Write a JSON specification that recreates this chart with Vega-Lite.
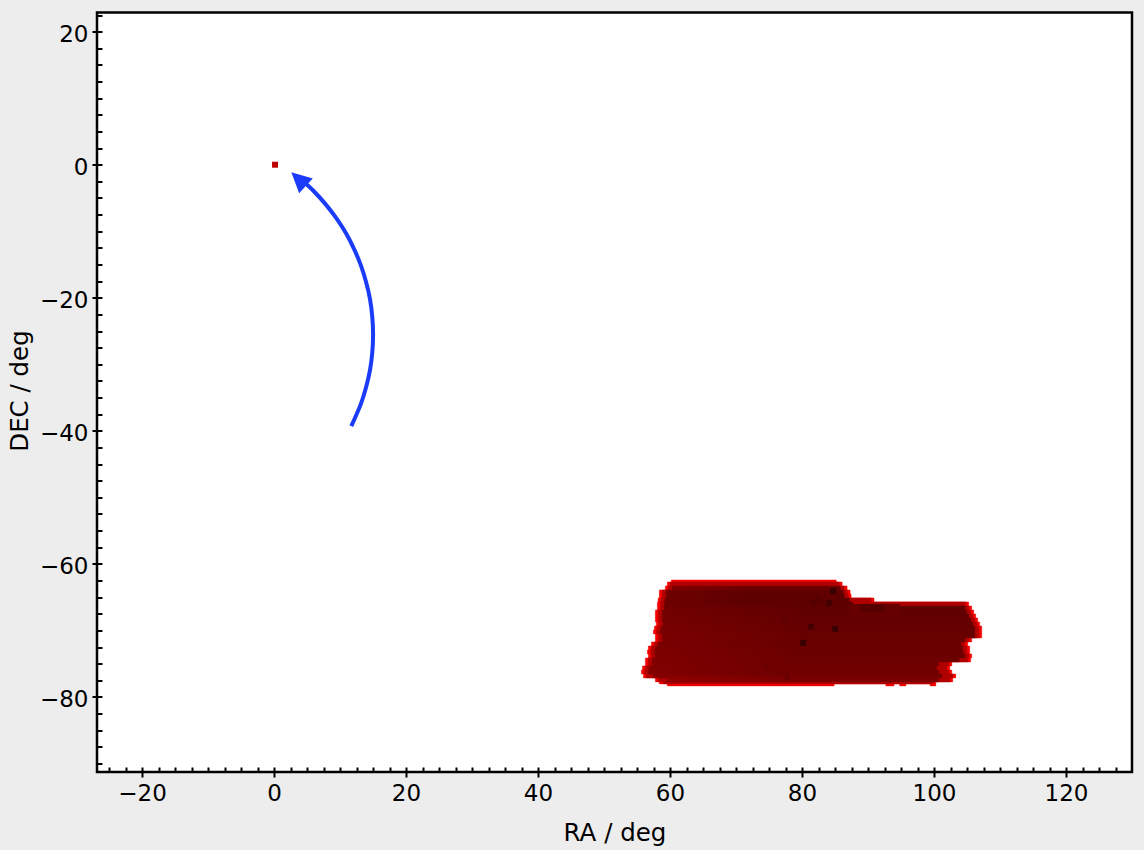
{
"$schema":"https://vega.github.io/schema/vega-lite/v6.json",
"width":1035,"height":759.5,"autosize":"none",
"padding":{"left":97,"top":12.5,"right":12,"bottom":78},
"background":"#ededed",
"config":{"view":{"fill":"#ffffff","stroke":"#000000","strokeWidth":2.5},
"axis":{"grid":false,"domain":false,"tickColor":"#000000","tickWidth":2,"labelColor":"#000000","titleColor":"#000000","labelFont":"DejaVu Sans","titleFont":"DejaVu Sans","labelFontSize":23,"titleFontSize":24.5,"titleFontWeight":"normal","labelFlush":false,"labelOverlap":false}},
"datasets":{
"bands":[
{"t":-62.41,"b":-62.71,"L":60.2,"R":85.18},
{"t":-62.71,"b":-63.31,"L":59.59,"R":86.08,"l1":60.04,"r1":85.63},
{"t":-63.31,"b":-63.91,"L":59.29,"R":86.84,"l1":59.74,"r1":86.39,"l2":60.34,"r2":85.79,"v":0.5},
{"t":-63.91,"b":-64.51,"L":58.38,"R":87.29,"l1":58.83,"r1":86.84,"l2":59.43,"r2":86.24,"v":0.56},
{"t":-64.51,"b":-65.11,"L":58.38,"R":87.44,"l1":58.83,"r1":86.99,"l2":59.43,"r2":86.39,"v":0.57},
{"t":-65.11,"b":-65.71,"L":58.2,"R":90.91,"l1":58.65,"r1":90.46,"l2":59.25,"r2":87.2,"v":0.57},
{"t":-65.71,"b":-66.32,"L":58.08,"R":105.26,"l1":58.53,"r1":104.8,"l2":59.13,"r2":87.7,"v":0.57},
{"t":-66.32,"b":-66.92,"L":58.08,"R":105.71,"l1":58.53,"r1":105.26,"l2":59.13,"r2":104.66,"v":0.56},
{"t":-66.92,"b":-67.52,"L":57.78,"R":106.02,"l1":58.23,"r1":105.57,"l2":58.83,"r2":104.97,"v":0.55},
{"t":-67.52,"b":-68.12,"L":57.78,"R":106.32,"l1":58.23,"r1":105.87,"l2":58.83,"r2":105.27,"v":0.55},
{"t":-68.12,"b":-68.72,"L":57.78,"R":106.62,"l1":58.23,"r1":106.17,"l2":58.83,"r2":105.57,"v":0.54},
{"t":-68.72,"b":-69.32,"L":57.93,"R":106.92,"l1":58.38,"r1":106.47,"l2":58.98,"r2":105.87,"v":0.54},
{"t":-69.32,"b":-69.92,"L":57.63,"R":107.23,"l1":58.08,"r1":106.78,"l2":58.68,"r2":106.18,"v":0.53},
{"t":-69.92,"b":-70.53,"L":57.48,"R":107.23,"l1":57.93,"r1":106.78,"l2":58.53,"r2":106.18,"v":0.53},
{"t":-70.53,"b":-71.13,"L":57.78,"R":107.23,"l1":58.23,"r1":106.78,"l2":58.83,"r2":106.18,"v":0.52},
{"t":-71.13,"b":-71.73,"L":57.78,"R":105.71,"l1":58.23,"r1":105.26,"l2":58.83,"r2":104.66,"v":0.52},
{"t":-71.73,"b":-72.33,"L":57.18,"R":105.11,"l1":57.63,"r1":104.66,"l2":58.23,"r2":104.06,"v":0.52},
{"t":-72.33,"b":-72.93,"L":56.72,"R":105.41,"l1":57.17,"r1":104.96,"l2":57.77,"r2":104.36,"v":0.51},
{"t":-72.93,"b":-73.53,"L":56.57,"R":105.41,"l1":57.02,"r1":104.96,"l2":57.62,"r2":104.36,"v":0.51},
{"t":-73.53,"b":-74.14,"L":56.72,"R":105.71,"l1":57.17,"r1":105.26,"l2":57.77,"r2":104.66,"v":0.51},
{"t":-74.14,"b":-74.74,"L":56.27,"R":105.56,"l1":56.72,"r1":105.11,"l2":57.32,"r2":103.8,"v":0.5},
{"t":-74.74,"b":-75.34,"L":56.27,"R":102.69,"l1":56.72,"r1":102.24,"l2":57.32,"r2":100.7,"v":0.5},
{"t":-75.34,"b":-75.94,"L":55.82,"R":102.39,"l1":56.27,"r1":101.94,"l2":56.87,"r2":100.4,"v":0.49},
{"t":-75.94,"b":-76.54,"L":55.67,"R":102.69,"l1":56.12,"r1":102.24,"l2":56.72,"r2":100.7,"v":0.49},
{"t":-76.54,"b":-77.14,"L":55.97,"R":103.3,"l1":56.42,"r1":102.85,"l2":57.5,"r2":101.2,"v":0.47},
{"t":-77.14,"b":-77.74,"L":57.78,"R":102.84,"l1":58.23,"r1":102.39,"l2":59.5,"r2":100.7,"v":0.43},
{"t":-77.74,"b":-78.04,"L":58.38,"R":100.28,"l1":59.0,"r1":99.8},
{"t":-78.04,"b":-78.35,"L":59.59,"R":84.87},
{"t":-78.04,"b":-78.35,"L":92.7,"R":93.95},
{"t":-78.04,"b":-78.35,"L":94.8,"R":95.75},
{"t":-78.04,"b":-78.35,"L":99.4,"R":100.28}
],
"cells":[
{"x":87.29,"x2":94.84,"y":-66.02,"y2":-67.82,"v":0.6},
{"x":88.8,"x2":92.57,"y":-66.02,"y2":-67.22,"v":0.66},
{"x":84.26,"x2":85.17,"y":-63.61,"y2":-64.51,"v":0.78},
{"x":83.66,"x2":84.57,"y":-65.41,"y2":-66.32,"v":0.74},
{"x":82.0,"x2":82.75,"y":-64.81,"y2":-65.71,"v":0.66},
{"x":81.24,"x2":82.15,"y":-65.41,"y2":-66.17,"v":0.68},
{"x":84.57,"x2":85.47,"y":-69.32,"y2":-70.23,"v":0.78},
{"x":80.94,"x2":81.85,"y":-69.02,"y2":-69.92,"v":0.72},
{"x":79.73,"x2":80.64,"y":-71.43,"y2":-72.33,"v":0.78},
{"x":77.01,"x2":77.92,"y":-68.12,"y2":-69.02,"v":0.62},
{"x":74.29,"x2":75.2,"y":-74.74,"y2":-75.64,"v":0.58},
{"x":77.31,"x2":78.22,"y":-76.54,"y2":-77.44,"v":0.58},
{"x":-0.3,"x2":0.61,"y":0.45,"y2":-0.45,"v":0.25}
],
"arc":[
{"i":0,"x":11.71,"y":-39.28},{"i":1,"x":13.15,"y":-35.98},{"i":2,"x":13.95,"y":-33.44},{"i":3,"x":14.55,"y":-30.84},
{"i":4,"x":14.89,"y":-28.2},{"i":5,"x":15.01,"y":-25.54},{"i":6,"x":14.89,"y":-22.88},{"i":7,"x":14.55,"y":-20.24},
{"i":8,"x":13.95,"y":-17.64},{"i":9,"x":13.15,"y":-15.1},{"i":10,"x":12.12,"y":-12.64},{"i":11,"x":10.89,"y":-10.28},
{"i":12,"x":9.44,"y":-8.03},{"i":13,"x":7.8,"y":-5.92},{"i":14,"x":6.0,"y":-3.95},{"i":15,"x":4.55,"y":-2.6}
],
"head":[{"x":3.73,"y":-2.15}]
},
"resolve":{"scale":{"x":"shared","y":"shared"},"axis":{"x":"independent","y":"independent"}},
"layer":[
{"data":{"name":"head"},"mark":{"type":"point","opacity":0},
"encoding":{
"x":{"field":"x","type":"quantitative","scale":{"domain":[-26.82,130.0],"nice":false,"zero":false},
"axis":{"orient":"bottom","title":"RA / deg","values":[-20,0,20,40,60,80,100,120],"tickSize":5,"labelPadding":5,"titlePadding":16}},
"y":{"field":"y","type":"quantitative","scale":{"domain":[-91.28,22.88],"nice":false,"zero":false},
"axis":{"orient":"left","title":"DEC / deg","values":[-80,-60,-40,-20,0,20],"tickSize":5,"labelPadding":4,"labelOffset":2.5,"titlePadding":7,"titleY":378}}}},
{"data":{"name":"head"},"mark":{"type":"point","opacity":0},
"encoding":{
"x":{"field":"x","type":"quantitative",
"axis":{"orient":"bottom","title":null,"labels":false,"tickSize":-5,"values":[-25,-22.5,-20,-17.5,-15,-12.5,-10,-7.5,-5,-2.5,0,2.5,5,7.5,10,12.5,15,17.5,20,22.5,25,27.5,30,32.5,35,37.5,40,42.5,45,47.5,50,52.5,55,57.5,60,62.5,65,67.5,70,72.5,75,77.5,80,82.5,85,87.5,90,92.5,95,97.5,100,102.5,105,107.5,110,112.5,115,117.5,120,122.5,125,127.5]}},
"y":{"field":"y","type":"quantitative",
"axis":{"orient":"left","title":null,"labels":false,"tickSize":-5,"values":[-90,-87.5,-85,-82.5,-80,-77.5,-75,-72.5,-70,-67.5,-65,-62.5,-60,-57.5,-55,-52.5,-50,-47.5,-45,-42.5,-40,-37.5,-35,-32.5,-30,-27.5,-25,-22.5,-20,-17.5,-15,-12.5,-10,-7.5,-5,-2.5,0,2.5,5,7.5,10,12.5,15,17.5,20,22.5]}}}},
{"data":{"name":"bands"},"mark":{"type":"rect","color":"#f40000","stroke":"#f40000","strokeWidth":0.4},
"encoding":{"x":{"field":"L","type":"quantitative","axis":null},"x2":{"field":"R"},"y":{"field":"t","type":"quantitative","axis":null},"y2":{"field":"b"}}},
{"data":{"name":"bands"},"mark":{"type":"rect","color":"#b00000","stroke":"#b00000","strokeWidth":0.4},
"encoding":{"x":{"field":"l1","type":"quantitative","axis":null},"x2":{"field":"r1"},"y":{"field":"t","type":"quantitative","axis":null},"y2":{"field":"b"}}},
{"data":{"name":"bands"},"mark":{"type":"rect","strokeWidth":0.4},
"encoding":{"x":{"field":"l2","type":"quantitative","axis":null},"x2":{"field":"r2"},"y":{"field":"t","type":"quantitative","axis":null},"y2":{"field":"b"},
"fill":{"field":"v","type":"quantitative","legend":null,"scale":{"domain":[0,1],"range":["#ff0000","#000000"],"interpolate":"rgb"}},
"stroke":{"field":"v","type":"quantitative","legend":null,"scale":{"domain":[0,1],"range":["#ff0000","#000000"],"interpolate":"rgb"}}}},
{"data":{"name":"bands"},"mark":{"type":"rect","fill":{"gradient":"linear","x1":0,"y1":0,"x2":1,"y2":0,"stops":[{"offset":0,"color":"rgba(0,0,0,0)"},{"offset":0.45,"color":"rgba(0,0,0,0.14)"},{"offset":1,"color":"rgba(0,0,0,0.14)"}]}},
"encoding":{"x":{"field":"l2","type":"quantitative","axis":null},"x2":{"field":"r2"},"y":{"field":"t","type":"quantitative","axis":null},"y2":{"field":"b"}}},
{"data":{"name":"cells"},"mark":{"type":"rect"},
"encoding":{"x":{"field":"x","type":"quantitative","axis":null},"x2":{"field":"x2"},"y":{"field":"y","type":"quantitative","axis":null},"y2":{"field":"y2"},
"fill":{"field":"v","type":"quantitative","legend":null,"scale":{"domain":[0,1],"range":["#ff0000","#000000"],"interpolate":"rgb"}}}},
{"data":{"name":"arc"},"mark":{"type":"line","color":"#1a3cf8","strokeWidth":4,"interpolate":"catmull-rom","strokeCap":"butt"},
"encoding":{"x":{"field":"x","type":"quantitative","axis":null},"y":{"field":"y","type":"quantitative","axis":null},"order":{"field":"i"}}},
{"data":{"name":"head"},"mark":{"type":"point","shape":"M0,-1L-1,1L1,1Z","filled":true,"color":"#1a3cf8","size":400,"angle":-47,"opacity":1},
"encoding":{"x":{"field":"x","type":"quantitative","axis":null},"y":{"field":"y","type":"quantitative","axis":null}}}
]
}
